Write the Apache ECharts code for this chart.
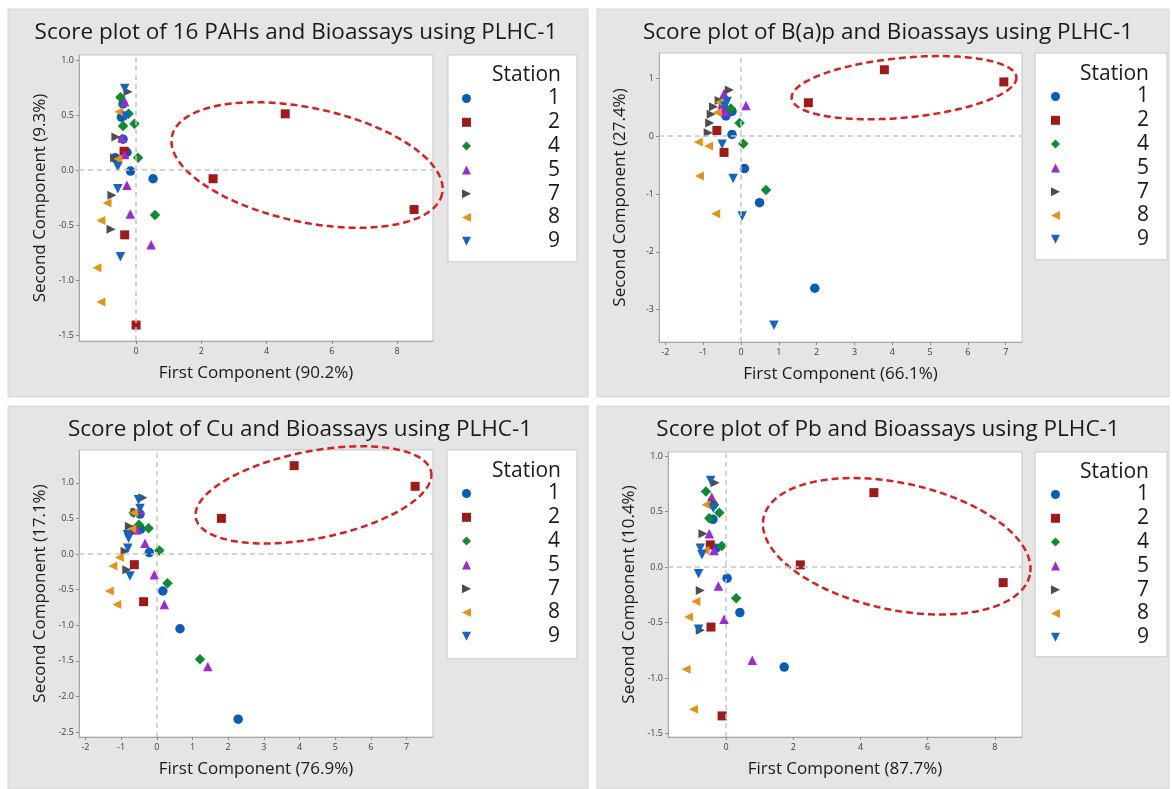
<!DOCTYPE html>
<html><head><meta charset="utf-8">
<script src="https://cdn.jsdelivr.net/npm/echarts@6/dist/echarts.min.js"></script>
<style>html,body{margin:0;padding:0;background:#fff}#c{width:1172px;height:789px}</style>
</head><body><div id="c"></div><script>
// ---------- data ----------
const stations = ['1', '2', '4', '5', '7', '8', '9'];

// 16 PAHs
const pah1 = [[-0.40,0.60],[-0.45,0.48],[-0.40,0.28],[-0.64,0.11],[-0.28,0.16],[-0.17,-0.01],[0.52,-0.08]];
const pah2 = [[4.57,0.51],[2.36,-0.08],[8.52,-0.36],[-0.37,0.17],[-0.35,-0.59],[0.00,-1.41]];
const pah4 = [[-0.48,0.66],[-0.23,0.51],[-0.40,0.40],[-0.05,0.42],[0.06,0.11],[0.58,-0.41]];
const pah5 = [[-0.35,0.62],[-0.43,0.29],[-0.35,0.14],[-0.28,-0.14],[-0.18,-0.40],[0.46,-0.68]];
const pah7 = [[-0.25,0.71],[-0.62,0.30],[-0.66,0.11],[-0.74,-0.23],[-0.77,-0.54]];
const pah8 = [[-0.53,0.53],[-0.56,0.10],[-0.89,-0.30],[-1.08,-0.46],[-1.20,-0.89],[-1.08,-1.20]];
const pah9 = [[-0.35,0.74],[-0.30,0.49],[-0.56,0.03],[-0.56,-0.17],[-0.48,-0.79]];
// B(a)p
const bap1 = [[-0.40,0.35],[-0.24,0.43],[-0.24,0.03],[0.09,-0.56],[0.49,-1.15],[1.95,-2.63]];
const bap2 = [[1.78,0.58],[3.79,1.15],[6.95,0.94],[-0.64,0.10],[-0.45,-0.28],[-0.47,0.50]];
const bap4 = [[-0.27,0.48],[-0.52,0.60],[-0.04,0.23],[0.06,-0.13],[0.66,-0.93]];
const bap5 = [[-0.45,0.74],[-0.47,0.62],[-0.47,0.48],[-0.50,0.55],[0.13,0.53],[-0.42,0.42]];
const bap7 = [[-0.31,0.80],[-0.73,0.51],[-0.79,0.38],[-0.83,0.23],[-0.87,0.06],[-0.58,0.62]];
const bap8 = [[-1.13,-0.10],[-0.86,-0.17],[-1.10,-0.69],[-0.67,-1.34],[-0.57,0.59],[-0.63,0.41]];
const bap9 = [[-0.37,0.60],[-0.43,0.52],[-0.50,-0.14],[-0.21,-0.73],[0.03,-1.38],[0.87,-3.27]];
// Cu
const cu1 = [[-0.47,0.56],[-0.45,0.35],[-0.21,0.02],[0.17,-0.52],[0.65,-1.05],[2.28,-2.32]];
const cu2 = [[1.81,0.50],[3.85,1.24],[7.24,0.95],[-0.61,0.34],[-0.63,-0.15],[-0.37,-0.67]];
const cu4 = [[-0.65,0.58],[-0.50,0.41],[-0.23,0.36],[0.07,0.05],[0.30,-0.41],[1.21,-1.48]];
const cu5 = [[-0.47,0.62],[-0.56,0.34],[-0.33,0.15],[-0.07,-0.29],[0.21,-0.71],[1.43,-1.58]];
const cu7 = [[-0.39,0.79],[-0.61,0.59],[-0.77,0.39],[-0.89,0.04],[-0.84,-0.22]];
const cu8 = [[-0.65,0.58],[-0.70,0.35],[-1.05,-0.05],[-1.23,-0.17],[-1.33,-0.52],[-1.12,-0.71]];
const cu9 = [[-0.51,0.76],[-0.47,0.64],[-0.82,0.27],[-0.79,0.22],[-0.81,0.08],[-0.75,-0.31]];
// Pb
const pb1 = [[-0.38,0.56],[-0.39,0.43],[-0.30,0.17],[0.03,-0.10],[0.41,-0.41],[1.73,-0.90]];
const pb2 = [[4.40,0.67],[2.21,0.02],[8.25,-0.14],[-0.47,0.20],[-0.45,-0.54],[-0.12,-1.34]];
const pb4 = [[-0.60,0.68],[-0.36,0.56],[-0.20,0.49],[-0.50,0.44],[-0.13,0.19],[0.30,-0.28]];
const pb5 = [[-0.43,0.63],[-0.50,0.30],[-0.36,0.15],[-0.23,-0.17],[-0.06,-0.47],[0.78,-0.84]];
const pb7 = [[-0.33,0.76],[-0.69,0.30],[-0.77,-0.21],[-0.77,-0.57],[-0.40,0.58]];
const pb8 = [[-0.60,0.56],[-0.63,0.15],[-0.90,-0.31],[-1.12,-0.45],[-1.19,-0.92],[-0.97,-1.28]];
const pb9 = [[-0.46,0.78],[-0.38,0.53],[-0.77,0.17],[-0.72,0.11],[-0.82,-0.06],[-0.82,-0.56]];

// tick labels
const pahXTicks = [0, 2, 4, 6, 8];
const pahYTicks = [1.0, 0.5, 0.0, -0.5, -1.0, -1.5];
const bapXTicks = [-2, -1, 0, 1, 2, 3, 4, 5, 6, 7];
const bapYTicks = [1, 0, -1, -2, -3];
const cuXTicks = [-2, -1, 0, 1, 2, 3, 4, 5, 6, 7];
const cuYTicks = [1.0, 0.5, 0.0, -0.5, -1.0, -1.5, -2.0, -2.5];
const pbXTicks = [0, 2, 4, 6, 8];
const pbYTicks = [1.0, 0.5, 0.0, -0.5, -1.0, -1.5];

// highlight ellipses (annotation): centre and two conjugate half-axis vectors, data units
const pahEllipse = {c: [5.24, 0.045], u: [4.14, -0.262], v: [-0.368, -0.507]};
const bapEllipse = {c: [4.31, 0.84], u: [2.971, 0.183], v: [0.074, -0.515]};
const cuEllipse = {c: [4.39, 0.83], u: [3.296, 0.324], v: [0.236, -0.601]};
const pbEllipse = {c: [5.08, 0.187], u: [3.964, -0.257], v: [-0.393, -0.558]};

// ---------- styles ----------
const FONT = '"Open Sans", "Noto Sans", sans-serif';
const colors = ['#0b5cb5', '#9e1b1b', '#0f8a2e', '#9b2bd0', '#4d4d4d', '#e3921c', '#1565c0'];
const symbols = ['circle', 'rect', 'diamond', 'triangle',
  'path://M0,0L10,5L0,10Z', 'path://M10,0L0,5L10,10Z', 'path://M0,0L10,0L5,10Z'];
const sizes = [9.5, 9, 10.5, 9.5, 9, 9, 9.5];

const panels = [
  {title: 'Score plot of 16 PAHs and Bioassays using PLHC-1', xName: 'First Component (90.2%)', yName: 'Second Component (9.3%)',
   data: [pah1, pah2, pah4, pah5, pah7, pah8, pah9], xTicks: pahXTicks, yTicks: pahYTicks, yDec: 1, ell: pahEllipse,
   grid: {left: 79, top: 55, width: 354, height: 286}, xr: [-1.75, 9.1], yr: [-1.555, 1.045],
   titlePos: [296, 33], legend: {left: 448, top: 55, padding: [33, 17, 10, 14]}, station: [561, 75], bg: [8, 9, 580, 388]},
  {title: 'Score plot of B(a)p and Bioassays using PLHC-1', xName: 'First Component (66.1%)', yName: 'Second Component (27.4%)',
   data: [bap1, bap2, bap4, bap5, bap7, bap8, bap9], xTicks: bapXTicks, yTicks: bapYTicks, yDec: 0, ell: bapEllipse,
   grid: {left: 659, top: 53, width: 363, height: 289}, xr: [-2.17, 7.43], yr: [-3.56, 1.44],
   titlePos: [888, 33], legend: {left: 1035, top: 53, padding: [33, 18, 10, 16]}, station: [1149, 74], bg: [597, 9, 572, 388]},
  {title: 'Score plot of Cu and Bioassays using PLHC-1', xName: 'First Component (76.9%)', yName: 'Second Component (17.1%)',
   data: [cu1, cu2, cu4, cu5, cu7, cu8, cu9], xTicks: cuXTicks, yTicks: cuYTicks, yDec: 1, ell: cuEllipse,
   grid: {left: 79, top: 450, width: 354, height: 287}, xr: [-2.18, 7.74], yr: [-2.57, 1.46],
   titlePos: [300, 430], legend: {left: 447, top: 450, padding: [33, 17, 12, 15]}, station: [561, 471], bg: [8, 406, 580, 383]},
  {title: 'Score plot of Pb and Bioassays using PLHC-1', xName: 'First Component (87.7%)', yName: 'Second Component (10.4%)',
   data: [pb1, pb2, pb4, pb5, pb7, pb8, pb9], xTicks: pbXTicks, yTicks: pbYTicks, yDec: 1, ell: pbEllipse,
   grid: {left: 668, top: 452, width: 354, height: 285}, xr: [-1.73, 8.81], yr: [-1.53, 1.036],
   titlePos: [888, 430], legend: {left: 1035, top: 452, padding: [32, 18, 9, 16]}, station: [1149, 472], bg: [597, 406, 572, 383]}
];

const grids = [], xAxes = [], yAxes = [], series = [], legends = [], titles = [], graphics = [];

panels.forEach((p, i) => {
  graphics.push({type: 'rect', z: -10, silent: true, shape: {x: p.bg[0], y: p.bg[1], width: p.bg[2], height: p.bg[3]},
    style: {fill: '#e5e5e5', stroke: '#d6d6d6', lineWidth: 1}});
  graphics.push({type: 'text', z: 10, silent: true, x: p.station[0], y: p.station[1],
    style: {text: 'Station', fontSize: 21, fontFamily: FONT, fill: '#1a1a1a', align: 'right', verticalAlign: 'middle'}});
  titles.push({text: p.title, left: p.titlePos[0], top: p.titlePos[1] - 14, textAlign: 'center', padding: 0,
    textStyle: {fontSize: 22.5, fontWeight: 'normal', fontFamily: FONT, color: '#1a1a1a', lineHeight: 28}});
  grids.push(Object.assign({show: true, backgroundColor: '#ffffff', borderColor: '#c4c4c4', borderWidth: 1}, p.grid));
  const dec = p.yDec;
  xAxes.push({type: 'value', gridIndex: i, min: p.xr[0], max: p.xr[1],
    splitLine: {show: false},
    axisLine: {show: true, onZero: false, lineStyle: {color: '#a8a8a8'}},
    axisTick: {show: true, length: 3, customValues: p.xTicks, lineStyle: {color: '#8c8c8c'}},
    axisLabel: {customValues: p.xTicks, fontSize: 9, fontFamily: FONT, color: '#404040', margin: 6,
      formatter: v => String(Math.round(v))},
    name: p.xName, nameLocation: 'middle', nameGap: 24,
    nameTextStyle: {fontSize: 17, fontFamily: FONT, color: '#1a1a1a'}});
  yAxes.push({type: 'value', gridIndex: i, min: p.yr[0], max: p.yr[1],
    splitLine: {show: false},
    axisLine: {show: true, onZero: false, lineStyle: {color: '#a8a8a8'}},
    axisTick: {show: true, length: 3, customValues: p.yTicks, lineStyle: {color: '#8c8c8c'}},
    axisLabel: {customValues: p.yTicks, fontSize: 9, fontFamily: FONT, color: '#404040', margin: 5,
      formatter: v => Number(v).toFixed(dec)},
    name: p.yName, nameLocation: 'middle', nameGap: 30,
    nameTextStyle: {fontSize: 17, fontFamily: FONT, color: '#1a1a1a'}});
  // reference lines at zero
  series.push({type: 'scatter', xAxisIndex: i, yAxisIndex: i, data: [], z: 1, silent: true,
    markLine: {silent: true, symbol: ['none', 'none'], label: {show: false},
      lineStyle: {type: [5, 4], color: '#c6c6c6', width: 1.5},
      data: [{xAxis: 0}, {yAxis: 0}]}});
  // ellipse annotation
  const e = p.ell;
  series.push({type: 'custom', xAxisIndex: i, yAxisIndex: i, z: 3, silent: true, clip: false,
    data: [[e.c[0], e.c[1]]],
    renderItem: function (params, api) {
      const pts = [];
      for (let k = 0; k <= 180; k++) {
        const t = k / 180 * 2 * Math.PI;
        pts.push(api.coord([e.c[0] + e.u[0] * Math.cos(t) + e.v[0] * Math.sin(t),
                            e.c[1] + e.u[1] * Math.cos(t) + e.v[1] * Math.sin(t)]));
      }
      return {type: 'polygon', shape: {points: pts},
        style: {fill: 'none', stroke: '#d42222', lineWidth: 2.5, lineDash: [7, 4]}};
    }});
  stations.forEach((s, k) => {
    series.push({type: 'scatter', name: s, xAxisIndex: i, yAxisIndex: i, z: 2,
      data: p.data[k], symbol: symbols[k], symbolSize: sizes[k],
      itemStyle: {color: colors[k], opacity: 1}, emphasis: {disabled: true}});
  });
  legends.push({data: stations.map((s, k) => ({name: s, icon: symbols[k]})),
    orient: 'vertical', left: p.legend.left, top: p.legend.top,
    padding: p.legend.padding, itemGap: 2.8, itemWidth: 9, itemHeight: 9,
    backgroundColor: '#ffffff', borderColor: '#c9c9c9', borderWidth: 1, selectedMode: false,
    formatter: name => '{n|' + name + '}',
    textStyle: {fontSize: 21, fontFamily: FONT, color: '#1a1a1a',
      rich: {n: {width: 84, align: 'right', fontSize: 21, lineHeight: 20, fontFamily: FONT, color: '#1a1a1a'}}}});
});

const chart = echarts.init(document.getElementById('c'), null, {renderer: 'canvas'});
chart.setOption({
  animation: false,
  backgroundColor: '#ffffff',
  title: titles,
  grid: grids,
  xAxis: xAxes,
  yAxis: yAxes,
  legend: legends,
  series: series,
  graphic: graphics
});
</script></body></html>
